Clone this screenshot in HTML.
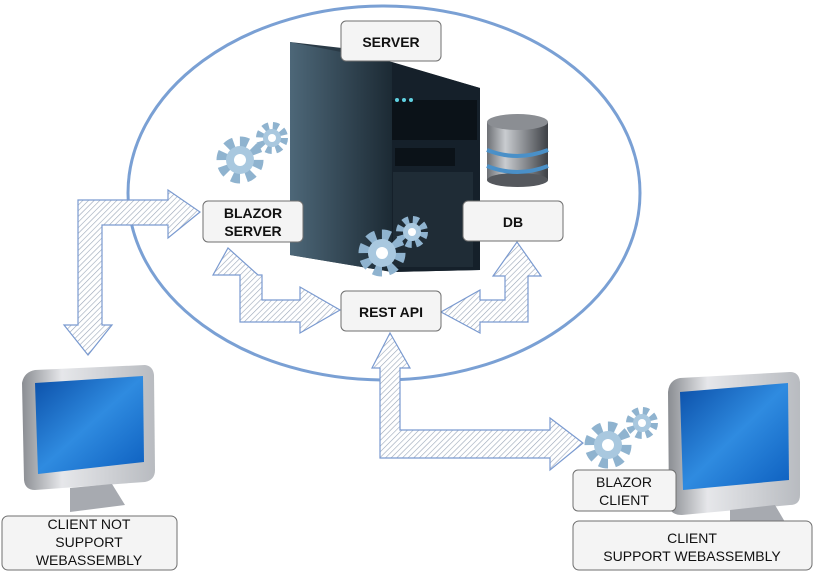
<!DOCTYPE html>
<html><head><meta charset="utf-8"><style>
body{margin:0;background:#fff;}
svg{display:block;font-family:"Liberation Sans",Arial,sans-serif;}
</style></head><body>
<svg width="817" height="577" viewBox="0 0 817 577" xmlns="http://www.w3.org/2000/svg">
<defs>
<pattern id="h" width="4" height="4" patternUnits="userSpaceOnUse" patternTransform="rotate(45)">
<rect width="4" height="4" fill="#fff"/><line x1="0" y1="0" x2="0" y2="4" stroke="#9aa6b8" stroke-width="1.2"/>
</pattern>
<linearGradient id="scr" x1="0" y1="0" x2="1" y2="1"><stop offset="0" stop-color="#0b4fa8"/><stop offset=".5" stop-color="#2f8be0"/><stop offset="1" stop-color="#0d5fbf"/></linearGradient>
<linearGradient id="sil" x1="0" y1="0" x2="1" y2="0"><stop offset="0" stop-color="#8a8d92"/><stop offset=".3" stop-color="#e6e7ea"/><stop offset="1" stop-color="#b8bbc0"/></linearGradient>
<linearGradient id="tw" x1="0" y1="0" x2="1" y2="0"><stop offset="0" stop-color="#4d6778"/><stop offset="1" stop-color="#1c2a34"/></linearGradient>
<linearGradient id="db" x1="0" y1="0" x2="1" y2="0"><stop offset="0" stop-color="#6d7075"/><stop offset=".3" stop-color="#c9ccd0"/><stop offset="1" stop-color="#3d4045"/></linearGradient>
<g id="gear"><circle r="18" fill="none" stroke="#8fb3cf" stroke-width="11" stroke-dasharray="8 6.1"/><circle r="14" fill="#a9c8df"/><circle r="6" fill="#fff"/></g>
<g id="gs"><circle r="12" fill="none" stroke="#8fb3cf" stroke-width="8" stroke-dasharray="5.5 4"/><circle r="9" fill="#a9c8df"/><circle r="4" fill="#fff"/></g>
</defs>
<ellipse cx="384" cy="193" rx="256" ry="187" fill="none" stroke="#7aa0d4" stroke-width="3"/>
<polygon points="290,42 342,48 480,88 480,270 392,272 290,255" fill="#2a3a46"/>
<polygon points="290,42 392,62 392,272 290,255" fill="url(#tw)"/>
<polygon points="392,62 480,88 480,270 392,272" fill="#15202a"/>
<rect x="392" y="100" width="85" height="40" fill="#0b1218"/>
<rect x="395" y="148" width="60" height="18" fill="#0b1218"/>
<rect x="393" y="172" width="80" height="95" fill="#1f2c36"/>
<circle cx="397" cy="100" r="2" fill="#5fd0e0"/><circle cx="404" cy="100" r="2" fill="#5fd0e0"/><circle cx="411" cy="100" r="2" fill="#5fd0e0"/>
<rect x="487" y="122" width="61" height="58" fill="url(#db)"/>
<ellipse cx="517.5" cy="180" rx="30.5" ry="7" fill="#55585d"/>
<ellipse cx="517.5" cy="122" rx="30.5" ry="8" fill="#8b8e93"/>
<path d="M487,150 Q517,162 548,150" stroke="#4a90c8" stroke-width="4" fill="none"/>
<path d="M487,166 Q517,178 548,166" stroke="#4a90c8" stroke-width="4" fill="none"/>
<use href="#gear" x="240" y="160"/><use href="#gs" x="272" y="138"/>
<use href="#gear" x="382" y="253"/><use href="#gs" x="412" y="232"/>
<use href="#gear" x="608" y="445"/><use href="#gs" x="642" y="423"/>
<g fill="url(#h)" stroke="#7a9ad0" stroke-width="1.2">
<path d="M78,325 L64,325 L88,355 L112,325 L102,325 L102,225 L168,225 L168,238 L200,212 L168,190 L168,200 L78,200 Z"/>
<path d="M240,275 L213,275 L228,248 L258,275 L262,275 L262,300 L300,300 L300,287 L340,310 L300,333 L300,322 L240,322 Z"/>
<path d="M480,322 L480,333 L441,312 L480,290 L480,300 L505,300 L505,276 L493,276 L517,242 L541,276 L528,276 L528,322 Z"/>
<path d="M380,368 L372,368 L390,333 L410,368 L400,368 L400,430 L550,430 L550,418 L583,443 L550,470 L550,458 L380,458 Z"/>
</g>
<g>
<path d="M22,383 Q24,372 35,370 L145,365 Q153,366 154,375 L155,470 Q155,480 145,482 L35,490 Q25,490 24,480 Z" fill="url(#sil)"/>
<path d="M35,383 L143,376 L144,462 L38,474 Z" fill="url(#scr)"/>
<polygon points="70,488 112,484 125,505 70,512" fill="#a7aab0"/>
<path d="M668,392 Q669,380 680,378 L790,372 Q799,372 800,382 L800,495 Q800,505 790,505 L682,515 Q670,515 669,505 Z" fill="url(#sil)"/>
<path d="M680,392 L788,383 L789,480 L683,490 Z" fill="url(#scr)"/>
<polygon points="730,510 775,505 785,522 730,528" fill="#a7aab0"/>
</g>
<g fill="#f4f4f4" stroke="#6f6f6f" stroke-width="1">
<rect x="341" y="21" width="100" height="40" rx="5"/>
<rect x="203" y="201" width="100" height="41" rx="5"/>
<rect x="463" y="201" width="100" height="40" rx="5"/>
<rect x="341" y="291" width="100" height="40" rx="5"/>
<rect x="573" y="470" width="103" height="41" rx="5"/>
<rect x="2" y="516" width="175" height="54" rx="6"/>
<rect x="573" y="521" width="239" height="49" rx="6"/>
</g>
<g font-size="14" fill="#111" text-anchor="middle" font-weight="bold">
<text x="391" y="47">SERVER</text>
<text x="253" y="218">BLAZOR</text><text x="253" y="236">SERVER</text>
<text x="513" y="227">DB</text>
<text x="391" y="317">REST API</text>
</g>
<g font-size="14" fill="#111" text-anchor="middle">
<text x="624" y="487">BLAZOR</text><text x="624" y="505">CLIENT</text>
<text x="89" y="529">CLIENT NOT</text><text x="89" y="547">SUPPORT</text><text x="89" y="565">WEBASSEMBLY</text>
<text x="692" y="543">CLIENT</text><text x="692" y="561">SUPPORT WEBASSEMBLY</text>
</g>
</svg>
</body></html>
